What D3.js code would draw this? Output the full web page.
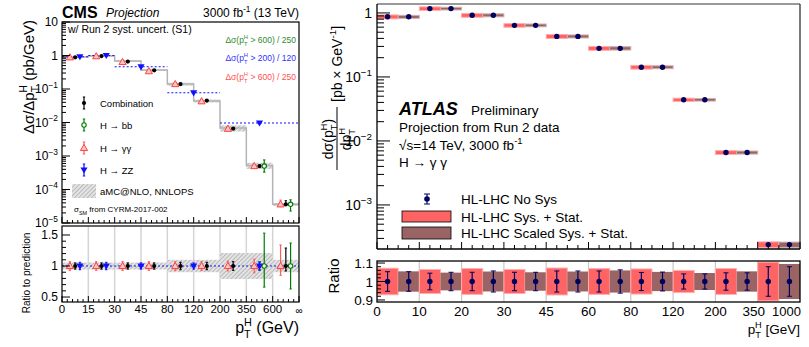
<!DOCTYPE html>
<html>
<head>
<meta charset="utf-8">
<script src="https://cdn.jsdelivr.net/npm/d3@7"></script>
<style>
  body { margin: 0; background: #fff; }
  svg { font-family: "Liberation Sans", Arial, Helvetica, sans-serif; }
</style>
</head>
<body>
<svg id="chart" width="809" height="347"></svg>
<script>
// ---------- CMS (left) data ----------
const cmsBinLabels = ["0", "15", "30", "45", "80", "120", "200", "350", "600", "\u221e"];
const cmsPred    = [0.90, 0.97, 0.68, 0.37, 0.14, 0.044, 0.0068, 5.2e-4, 3.6e-5];
const cmsPredUnc = [0.056, 0.056, 0.056, 0.056, 0.10, 0.10, 0.21, 0.21, 0.10];

const combVal   = [0.88, 0.96, 0.66, 0.36, 0.14, 0.045, 0.0066, 5.0e-4, 3.6e-5];
const combRatio = [1, 1, 1, 1, 1, 1, 1, 1, 1];
const combUp    = [0.05, 0.05, 0.05, 0.05, 0.06, 0.06, 0.07, 0.065, 0.29];
const combDn    = [0.05, 0.05, 0.05, 0.05, 0.06, 0.06, 0.07, 0.065, 0.08];

const ggVal   = [0.88, 0.95, 0.64, 0.34, 0.14, 0.043, 0.0065, 5.0e-4, 3.6e-5];
const ggRatio = [1, 1, 1, 1, 1, 1, 1, 1, 1];
const ggUp    = [0.07, 0.07, 0.07, 0.07, 0.07, 0.07, 0.08, 0.11, 0.34];
const ggDn    = [0.07, 0.07, 0.07, 0.07, 0.07, 0.07, 0.08, 0.11, 0.15];

const bbBins  = [7, 8];
const bbVal   = [5.0e-4, 3.6e-5];
const bbRatio = [1, 1];
const bbUp    = [0.53, 0.37];
const bbDn    = [0.34, 0.37];

// ZZ uses merged bins (bin index lo..hi)
const zzLo    = [0, 1, 2, 4, 6];
const zzHi    = [1, 2, 4, 6, 9];
const zzVal   = [0.92, 1.0, 0.46, 0.077, 0.0097];
const zzRatio = [1, 1, 1, 1, 1];
const zzUp    = [0.06, 0.06, 0.05, 0.05, 0.065];
const zzDn    = [0.06, 0.06, 0.05, 0.05, 0.065];

// ---------- ATLAS (right) data ----------
const atlasBinLabels = ["0", "10", "20", "30", "45", "60", "80", "120", "200", "350", "1000"];
const atlasXsec   = [0.87, 1.17, 0.92, 0.64, 0.43, 0.28, 0.142, 0.044, 0.0066, 2.4e-4];
const atlasSys    = [0.072, 0.065, 0.070, 0.065, 0.073, 0.070, 0.068, 0.060, 0.070, 0.105];
const atlasScaled = [0.055, 0.048, 0.054, 0.050, 0.054, 0.060, 0.052, 0.046, 0.055, 0.095];
const atlasNoSysA = [0.053, 0.045, 0.050, 0.050, 0.057, 0.057, 0.049, 0.041, 0.047, 0.080];
const atlasNoSysB = [0.053, 0.050, 0.057, 0.050, 0.057, 0.063, 0.051, 0.041, 0.047, 0.080];

const svg = d3.select("#chart");
const defs = svg.append("defs");
const hatch = defs.append("pattern").attr("id", "hatch")
  .attr("patternUnits", "userSpaceOnUse").attr("width", 3).attr("height", 3)
  .attr("patternTransform", "rotate(45)");
hatch.append("rect").attr("width", 3).attr("height", 3).attr("fill", "#e4e4e4");
hatch.append("line").attr("x1", 0).attr("y1", 0).attr("x2", 0).attr("y2", 3)
  .attr("stroke", "#9c9c9c").attr("stroke-width", 1.2);

// text helper: base, then stacked sub/sup, then trailing text
function subsup(t, size, base, sub, sup, after) {
  const s = size * 0.68;
  t.append("tspan").text(base);
  t.append("tspan").attr("font-size", s).attr("dy", size * 0.32).text(sub);
  if (sup) {
    t.append("tspan").attr("font-size", s).attr("dx", -s * 0.62 * sub.length)
      .attr("dy", -size * 0.78).text(sup);
  }
  if (after) t.append("tspan").attr("dy", sup ? size * 0.46 : -size * 0.32).text(after);
}
function powLabel(t, size, base, exp) {
  t.append("tspan").text(base);
  if (exp) t.append("tspan").attr("font-size", size * 0.7).attr("dy", -size * 0.45).text(exp);
}
function errbar(g, x, y1, y2, color, cap) {
  g.append("line").attr("x1", x).attr("x2", x).attr("y1", y1).attr("y2", y2)
    .attr("stroke", color).attr("stroke-width", 1.2);
  if (cap) {
    [y1, y2].forEach(function(y) {
      g.append("line").attr("x1", x - cap).attr("x2", x + cap).attr("y1", y).attr("y2", y)
        .attr("stroke", color).attr("stroke-width", 1);
    });
  }
}
const triUp = d3.symbol(d3.symbolTriangle).size(22);

// =============== LEFT: CMS ===============
const cx = d3.scaleLinear().domain([0, 9]).range([62, 299]);
const cy = d3.scaleLog().domain([1e-5, 10]).range([223, 22]);
const cr = d3.scaleLinear().domain([0.42, 1.645]).range([302, 226]);

function drawCmsMarkers(g, yf, mode) {
  const main = mode === "main";
  const pts = [];
  cmsPred.forEach(function(p, i) {
    pts.push({ s: "gg", x: i + 0.3, v: main ? ggVal[i] : ggRatio[i], up: ggUp[i], dn: ggDn[i] });
    pts.push({ s: "comb", x: i + 0.5, v: main ? combVal[i] : combRatio[i], up: combUp[i], dn: combDn[i] });
  });
  zzLo.forEach(function(lo, i) {
    const hi = zzHi[i];
    const x = hi - lo === 1 ? lo + 0.68 : (lo + hi) / 2;
    pts.push({ s: "zz", x: x, v: main ? zzVal[i] : zzRatio[i], up: zzUp[i], dn: zzDn[i] });
  });
  bbBins.forEach(function(b, i) {
    pts.push({ s: "bb", x: b + 0.68, v: main ? bbVal[i] : bbRatio[i], up: bbUp[i], dn: bbDn[i] });
  });
  const colors = { gg: "#ff5c5c", comb: "#000", zz: "#1010ff", bb: "#007a00" };
  pts.forEach(function(d) {
    const px = cx(d.x);
    // errors are relative in the main panel, absolute in the ratio panel
    const y1 = main ? yf(d.v * (1 + d.up)) : yf(d.v + d.up);
    const y2 = main ? yf(d.v * (1 - d.dn)) : yf(d.v - d.dn);
    errbar(g, px, Math.max(y1, main ? 22 : 226), y2, colors[d.s], 1.2);
    drawCmsMarker(g, d.s, px, yf(d.v));
  });
}
function drawCmsMarker(g, s, px, py) {
  if (s === "gg") {
    g.append("path").attr("d", triUp).attr("transform", "translate(" + px + "," + (py + 0.5) + ")")
      .attr("fill", "#ffc4c4").attr("stroke", "#ff4040").attr("stroke-width", 1);
  } else if (s === "comb") {
    g.append("circle").attr("cx", px).attr("cy", py).attr("r", 2.1).attr("fill", "#000");
  } else if (s === "zz") {
    g.append("path").attr("d", triUp).attr("transform", "translate(" + px + "," + (py - 0.5) + ") rotate(180)")
      .attr("fill", "#1010ff");
  } else {
    g.append("circle").attr("cx", px).attr("cy", py).attr("r", 2.2)
      .attr("fill", "#fff").attr("stroke", "#007a00").attr("stroke-width", 1.1);
  }
}

const cm = svg.append("g");
// prediction band + step line
cmsPred.forEach(function(p, i) {
  cm.append("rect").attr("x", cx(i)).attr("width", cx(i + 1) - cx(i))
    .attr("y", cy(p * (1 + cmsPredUnc[i])))
    .attr("height", cy(p * (1 - cmsPredUnc[i])) - cy(p * (1 + cmsPredUnc[i])))
    .attr("fill", "url(#hatch)");
});
const stepPts = cmsPred.map(function(p, i) { return [i, p]; }).concat([[9, cmsPred[8]]]);
cm.append("path")
  .attr("d", d3.line().x(function(d) { return cx(d[0]); }).y(function(d) { return cy(d[1]); })
    .curve(d3.curveStepAfter)(stepPts))
  .attr("fill", "none").attr("stroke", "#b4b4b4").attr("stroke-width", 1.5);
// ZZ merged-bin dotted lines
zzLo.forEach(function(lo, i) {
  cm.append("line").attr("x1", cx(lo)).attr("x2", cx(zzHi[i]))
    .attr("y1", cy(zzVal[i])).attr("y2", cy(zzVal[i]))
    .attr("stroke", "#1010ff").attr("stroke-width", 1.1).attr("stroke-dasharray", "2,2");
});
drawCmsMarkers(cm, cy, "main");

// frame and ticks
cm.append("rect").attr("x", 62).attr("y", 22).attr("width", 237).attr("height", 201)
  .attr("fill", "none").attr("stroke", "#000").attr("stroke-width", 1.2);
for (let k = -5; k <= 1; k++) {
  const v = Math.pow(10, k);
  cm.append("line").attr("x1", 62).attr("x2", 70).attr("y1", cy(v)).attr("y2", cy(v)).attr("stroke", "#000");
  if (k < 1) {
    for (let m = 2; m <= 9; m++) {
      const y = cy(m * v);
      cm.append("line").attr("x1", 62).attr("x2", 66).attr("y1", y).attr("y2", y).attr("stroke", "#000");
    }
  }
  const t = cm.append("text").attr("x", 58).attr("y", cy(v) + 4).attr("text-anchor", "end").attr("font-size", 12);
  if (k === 0) t.text("1");
  else if (k === 1) t.text("10");
  else powLabel(t, 12, "10", "\u2212" + (-k));
}
function xTicks(g, yb) {
  for (let i = 0; i <= 9; i++) {
    g.append("line").attr("x1", cx(i)).attr("x2", cx(i)).attr("y1", yb).attr("y2", yb - 6).attr("stroke", "#000");
    if (i < 9) {
      for (let m = 1; m < 5; m++) {
        const x = cx(i + m / 5);
        g.append("line").attr("x1", x).attr("x2", x).attr("y1", yb).attr("y2", yb - 3).attr("stroke", "#000");
      }
    }
  }
}
xTicks(cm, 223);

// ratio panel
const crg = svg.append("g");
for (let i = 1; i < 9; i++) {
  crg.append("line").attr("x1", cx(i)).attr("x2", cx(i)).attr("y1", 226).attr("y2", 302)
    .attr("stroke", "#d4d4d4").attr("stroke-width", 1.5);
}
cmsPredUnc.forEach(function(u, i) {
  crg.append("rect").attr("x", cx(i)).attr("width", cx(i + 1) - cx(i))
    .attr("y", cr(1 + u)).attr("height", cr(1 - u) - cr(1 + u)).attr("fill", "url(#hatch)");
});
crg.append("line").attr("x1", cx(0)).attr("x2", cx(9)).attr("y1", cr(1)).attr("y2", cr(1))
  .attr("stroke", "#1010ff").attr("stroke-width", 1.1).attr("stroke-dasharray", "2,2");
drawCmsMarkers(crg, cr, "ratio");
crg.append("rect").attr("x", 62).attr("y", 226).attr("width", 237).attr("height", 76)
  .attr("fill", "none").attr("stroke", "#000").attr("stroke-width", 1.2);
for (let v = 0.5; v <= 1.6; v += 0.1) {
  const major = Math.abs(v - 0.5) < 1e-6 || Math.abs(v - 1) < 1e-6 || Math.abs(v - 1.5) < 1e-6;
  crg.append("line").attr("x1", 62).attr("x2", major ? 70 : 66).attr("y1", cr(v)).attr("y2", cr(v)).attr("stroke", "#000");
}
[0.5, 1, 1.5].forEach(function(v) {
  crg.append("text").attr("x", 58).attr("y", cr(v) + 4).attr("text-anchor", "end")
    .attr("font-size", 12).text(v === 1 ? "1" : String(v));
});
xTicks(crg, 302);
cmsBinLabels.forEach(function(l, i) {
  crg.append("text").attr("x", cx(i)).attr("y", i === 9 ? 314 : 313).attr("text-anchor", "middle")
    .attr("font-size", i === 9 ? 10 : 11.5).text(l);
});

// titles
const cyt = svg.append("text").attr("transform", "translate(34,20) rotate(-90)")
  .attr("text-anchor", "end").attr("font-size", 15);
subsup(cyt, 15, "\u0394\u03c3/\u0394p", "T", "H", " (pb/GeV)");
svg.append("text").attr("transform", "translate(30,273) rotate(-90)")
  .attr("text-anchor", "middle").attr("font-size", 10).text("Ratio to prediction");
const cxt = svg.append("text").attr("x", 299).attr("y", 333).attr("text-anchor", "end").attr("font-size", 16);
subsup(cxt, 16, "p", "T", "H", " (GeV)");

svg.append("text").attr("x", 62).attr("y", 18).attr("font-size", 16).attr("font-weight", "bold").text("CMS");
svg.append("text").attr("x", 106).attr("y", 17).attr("font-size", 12).attr("font-style", "italic").text("Projection");
const lumi = svg.append("text").attr("x", 299).attr("y", 17).attr("text-anchor", "end").attr("font-size", 12);
powLabel(lumi, 12, "3000 fb", "-1");
lumi.append("tspan").attr("dy", 12 * 0.45).text(" (13 TeV)");
svg.append("text").attr("x", 68).attr("y", 33).attr("font-size", 10.5).text("w/ Run 2 syst. uncert. (S1)");

const notes = [
  { c: "#2e8b2e", txt: " > 600) / 250", y: 43 },
  { c: "#3030ff", txt: " > 200) / 120", y: 61 },
  { c: "#ff5050", txt: " > 600) / 250", y: 80 }
];
notes.forEach(function(n) {
  const t = svg.append("text").attr("x", 296).attr("y", n.y).attr("text-anchor", "end")
    .attr("font-size", 8.5).attr("fill", n.c);
  subsup(t, 8.5, "\u0394\u03c3(p", "T", "H", n.txt);
});

// left legend
const leg = [
  { s: "comb", label: "Combination", y: 103 },
  { s: "bb", label: "H \u2192 bb", y: 125 },
  { s: "gg", label: "H \u2192 \u03b3\u03b3", y: 148 },
  { s: "zz", label: "H \u2192 ZZ", y: 170 }
];
const legColors = { gg: "#ff5c5c", comb: "#000", zz: "#1010ff", bb: "#007a00" };
leg.forEach(function(d) {
  errbar(svg, 84, d.y - 6, d.y + 6, legColors[d.s], 1.2);
  drawCmsMarker(svg, d.s, 84, d.y);
  svg.append("text").attr("x", 100).attr("y", d.y + 3.5).attr("font-size", 9.5).text(d.label);
});
svg.append("rect").attr("x", 72).attr("y", 184).attr("width", 24).attr("height", 14).attr("fill", "url(#hatch)");
svg.append("text").attr("x", 100).attr("y", 194.5).attr("font-size", 9.5).text("aMC@NLO, NNLOPS");
const sm = svg.append("text").attr("x", 74).attr("y", 212).attr("font-size", 8);
subsup(sm, 8, "\u03c3", "SM", null, " from CYRM-2017-002");

// =============== RIGHT: ATLAS ===============
const ax = d3.scaleLinear().domain([0, 10]).range([377, 800]);
const ay = d3.scaleLog().domain([2.05e-4, 1.38]).range([249, 4]);
const ar = d3.scaleLinear().domain([0.889, 1.111]).range([302, 261]);
const red = "#ff6464", brown = "#9a6464", navy = "#000060";

const am = svg.append("g");
atlasXsec.forEach(function(v, i) {
  am.append("rect").attr("x", ax(i)).attr("width", ax(i + 0.5) - ax(i))
    .attr("y", ay(v * (1 + atlasSys[i]))).attr("height", ay(v * (1 - atlasSys[i])) - ay(v * (1 + atlasSys[i])))
    .attr("fill", red).attr("stroke", "#ffb0b0").attr("stroke-width", 1);
  am.append("rect").attr("x", ax(i + 0.5)).attr("width", ax(i + 1) - ax(i + 0.5))
    .attr("y", ay(v * (1 + atlasScaled[i]))).attr("height", ay(v * (1 - atlasScaled[i])) - ay(v * (1 + atlasScaled[i])))
    .attr("fill", brown).attr("stroke", "#d0b0b0").attr("stroke-width", 1);
  [[0.25, atlasNoSysA[i]], [0.75, atlasNoSysB[i]]].forEach(function(p) {
    errbar(am, ax(i + p[0]), ay(v * (1 + p[1])), ay(v * (1 - p[1])), navy, 0);
    am.append("circle").attr("cx", ax(i + p[0])).attr("cy", ay(v)).attr("r", 2.7).attr("fill", navy);
  });
});
am.append("line").attr("x1", 377).attr("x2", 800).attr("y1", 4).attr("y2", 4).attr("stroke", "#777").attr("stroke-width", 1.5);
am.append("line").attr("x1", 800).attr("x2", 800).attr("y1", 4).attr("y2", 249).attr("stroke", "#333").attr("stroke-width", 1.3);
am.append("line").attr("x1", 377).attr("x2", 377).attr("y1", 4).attr("y2", 249).attr("stroke", "#000").attr("stroke-width", 1.3);
am.append("line").attr("x1", 377).attr("x2", 800).attr("y1", 249).attr("y2", 249).attr("stroke", "#000").attr("stroke-width", 1.3);
for (let k = -4; k <= 0; k++) {
  const v = Math.pow(10, k);
  if (k > -4) {
    am.append("line").attr("x1", 377).attr("x2", 390).attr("y1", ay(v)).attr("y2", ay(v)).attr("stroke", "#000");
    const t = am.append("text").attr("x", 372).attr("y", ay(v) + 5).attr("text-anchor", "end").attr("font-size", 14);
    if (k === 0) t.text("1");
    else powLabel(t, 14, "10", "\u2212" + (-k));
  }
  for (let m = 2; m <= 9; m++) {
    const vv = m * v;
    if (vv < 2.05e-4 || vv > 1.38) continue;
    am.append("line").attr("x1", 377).attr("x2", 384).attr("y1", ay(vv)).attr("y2", ay(vv)).attr("stroke", "#000");
  }
}
for (let i = 0; i <= 10; i++) {
  am.append("line").attr("x1", ax(i)).attr("x2", ax(i)).attr("y1", 249).attr("y2", 242).attr("stroke", "#000");
  if (i < 10) {
    for (let m = 1; m < 4; m++) {
      am.append("line").attr("x1", ax(i + m / 4)).attr("x2", ax(i + m / 4)).attr("y1", 249).attr("y2", 245).attr("stroke", "#000");
    }
  }
}

// ATLAS labels
svg.append("text").attr("x", 399).attr("y", 115).attr("font-size", 18).attr("font-weight", "bold")
  .attr("font-style", "italic").text("ATLAS");
svg.append("text").attr("x", 471).attr("y", 115).attr("font-size", 13.5).text("Preliminary");
svg.append("text").attr("x", 399).attr("y", 132).attr("font-size", 13.5).text("Projection from Run 2 data");
const sq = svg.append("text").attr("x", 399).attr("y", 150).attr("font-size", 13.5);
powLabel(sq, 13.5, "\u221as=14 TeV, 3000 fb", "-1");
svg.append("text").attr("x", 399).attr("y", 167).attr("font-size", 13.5).text("H \u2192 \u03b3 \u03b3");

// ATLAS legend
errbar(svg, 427, 194, 204, navy, 3);
svg.append("circle").attr("cx", 427).attr("cy", 199).attr("r", 2.8).attr("fill", navy);
svg.append("rect").attr("x", 402).attr("y", 211).attr("width", 49).attr("height", 11).attr("fill", red).attr("stroke", "#000").attr("stroke-width", 0.8);
svg.append("rect").attr("x", 402).attr("y", 227).attr("width", 49).attr("height", 12).attr("fill", brown).attr("stroke", "#000").attr("stroke-width", 0.8);
[["HL-LHC No Sys", 204], ["HL-LHC Sys. + Stat.", 221.5], ["HL-LHC Scaled Sys. + Stat.", 237.5]].forEach(function(d) {
  svg.append("text").attr("x", 461).attr("y", d[1]).attr("font-size", 13.5).text(d[0]);
});

// ATLAS y title
const yt = svg.append("g").attr("transform", "translate(337,170) rotate(-90)");
const num = yt.append("text").attr("x", 31).attr("y", -4).attr("text-anchor", "middle").attr("font-size", 14);
subsup(num, 14, "d\u03c3(p", "T", "H", ")");
yt.append("line").attr("x1", 0).attr("x2", 63).attr("y1", 0).attr("y2", 0).attr("stroke", "#000").attr("stroke-width", 1);
const den = yt.append("text").attr("x", 31).attr("y", 14).attr("text-anchor", "middle").attr("font-size", 14);
subsup(den, 14, "dp", "T", "H", "");
const unit = yt.append("text").attr("x", 68).attr("y", 5).attr("font-size", 14);
powLabel(unit, 14, "[pb \u00d7 GeV", "-1");
unit.append("tspan").attr("dy", 14 * 0.45).text("]");

// ATLAS ratio
const arg = svg.append("g");
for (let i = 1; i < 10; i++) {
  arg.append("line").attr("x1", ax(i)).attr("x2", ax(i)).attr("y1", 261).attr("y2", 302)
    .attr("stroke", "#c8c8c8").attr("stroke-width", 1.2);
}
atlasXsec.forEach(function(v, i) {
  arg.append("rect").attr("x", ax(i)).attr("width", ax(i + 0.5) - ax(i))
    .attr("y", ar(1 + atlasSys[i])).attr("height", ar(1 - atlasSys[i]) - ar(1 + atlasSys[i]))
    .attr("fill", red).attr("stroke", "#ffb0b0").attr("stroke-width", 1);
  arg.append("rect").attr("x", ax(i + 0.5)).attr("width", ax(i + 1) - ax(i + 0.5))
    .attr("y", ar(1 + atlasScaled[i])).attr("height", ar(1 - atlasScaled[i]) - ar(1 + atlasScaled[i]))
    .attr("fill", brown);
  [[0.25, atlasNoSysA[i]], [0.75, atlasNoSysB[i]]].forEach(function(p) {
    errbar(arg, ax(i + p[0]), ar(1 + p[1]), ar(1 - p[1]), navy, 2.5);
    arg.append("circle").attr("cx", ax(i + p[0])).attr("cy", ar(1)).attr("r", 2.7).attr("fill", navy);
  });
});
arg.append("rect").attr("x", 377).attr("y", 261).attr("width", 423).attr("height", 41)
  .attr("fill", "none").attr("stroke", "#000").attr("stroke-width", 1.3);
for (let v = 0.9; v <= 1.1001; v += 0.02) {
  const major = Math.abs(v - 0.9) < 1e-6 || Math.abs(v - 1) < 1e-6 || Math.abs(v - 1.1) < 1e-6;
  arg.append("line").attr("x1", 377).attr("x2", major ? 385 : 381).attr("y1", ar(v)).attr("y2", ar(v)).attr("stroke", "#000");
}
[1.1, 1, 0.9].forEach(function(v) {
  arg.append("text").attr("x", 373).attr("y", ar(v) + 5).attr("text-anchor", "end")
    .attr("font-size", 13.5).text(v === 1 ? "1" : String(v));
});
atlasBinLabels.forEach(function(l, i) {
  const last = i === 10;
  arg.append("text").attr("x", last ? 801 : (i === 9 ? ax(i) - 4 : ax(i))).attr("y", 316)
    .attr("text-anchor", last ? "end" : "middle").attr("font-size", last ? 13 : 13.5).text(l);
});
svg.append("text").attr("transform", "translate(339,276) rotate(-90)")
  .attr("text-anchor", "middle").attr("font-size", 15).text("Ratio");
const axt = svg.append("text").attr("x", 800).attr("y", 334).attr("text-anchor", "end").attr("font-size", 13.5);
subsup(axt, 13.5, "p", "T", "H", " [GeV]");
</script>
</body>
</html>
